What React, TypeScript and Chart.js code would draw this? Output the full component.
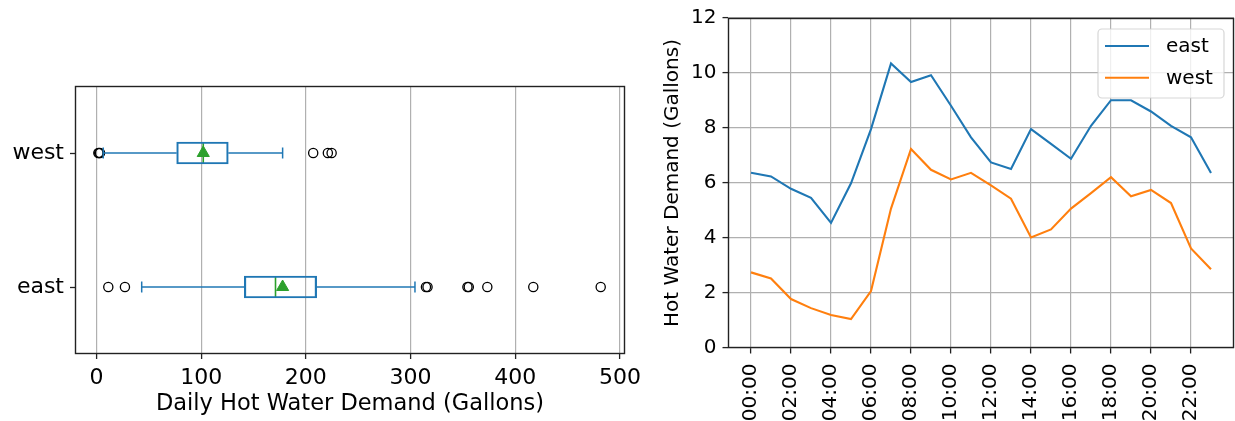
import React, { useEffect, useRef } from 'react';
import { Chart, registerables } from 'chart.js';

Chart.register(...registerables);

const FONT = "'DejaVu Sans', 'Liberation Sans', sans-serif";
const BLUE = '#1f77b4';
const ORANGE = '#ff7f0e';
const GREEN = '#2ca02c';
const GRID = '#b0b0b0';
const INK = '#000000';

// ---- Left panel: daily demand box plot (values in gallons) ----
const boxCategories = ['east', 'west'];
const boxQ1 = [141.2, 76.6];
const boxMedian = [171.0, 102.0];
const boxQ3 = [210.3, 125.9];
const whiskerLow = [43.2, 6.5];
const whiskerHigh = [304.2, 177.8];
const boxMean = [177.8, 102.0];
const eastOutliers = [11.3, 27.2, 314.7, 316.2, 354.3, 355.6, 373.3, 417.2, 481.6];
const westOutliers = [1.8, 2.6, 3.4, 207.0, 221.0, 224.6];
const dailyTicks = [0, 100, 200, 300, 400, 500];
const dailyRange = [-20.5, 504.8];

// ---- Right panel: mean hourly demand ----
const hours = [0, 1, 2, 3, 4, 5, 6, 7, 8, 9, 10, 11, 12, 13, 14, 15, 16, 17, 18, 19, 20, 21, 22, 23];
const eastHourly = [6.37, 6.24, 5.79, 5.46, 4.55, 5.99, 7.96, 10.35, 9.67, 9.92, 8.81, 7.66, 6.75, 6.51, 7.96, 7.42, 6.88, 8.08, 9.01, 9.01, 8.6, 8.08, 7.66, 6.36];
const westHourly = [2.75, 2.53, 1.78, 1.45, 1.2, 1.05, 2.07, 5.07, 7.24, 6.48, 6.13, 6.37, 5.91, 5.43, 4.02, 4.31, 5.07, 5.63, 6.21, 5.52, 5.75, 5.27, 3.62, 2.86];
const hourTicks = [0, 2, 4, 6, 8, 10, 12, 14, 16, 18, 20, 22];
const hourTickLabels = ['00:00', '02:00', '04:00', '06:00', '08:00', '10:00', '12:00', '14:00', '16:00', '18:00', '20:00', '22:00'];
const hourRange = [-1.15, 24.15];
const demandTicks = [0, 2, 4, 6, 8, 10, 12];
const demandRange = [0, 12];

const framePlugin = {
  id: 'frame',
  afterDraw(chart: any) {
    const { ctx, chartArea: a } = chart;
    ctx.save();
    ctx.strokeStyle = '#222222';
    ctx.lineWidth = 1.4;
    const l = Math.round(a.left) + 0.5;
    const t = Math.round(a.top) + 0.5;
    const r = Math.round(a.right) - 0.5;
    const b = Math.round(a.bottom) - 0.5;
    ctx.strokeRect(l, t, r - l, b - t);
    ctx.restore();
  },
};

const boxLegendPlugin = {
  id: 'boxLegend',
  afterDatasetsDraw(chart: any) {
    const { ctx, chartArea: a } = chart;
    const w = 126;
    const h = 69;
    const left = a.right - 10 - w;
    const top = a.top + 11;
    const rad = 4;
    ctx.save();
    ctx.beginPath();
    ctx.moveTo(left + rad, top);
    ctx.lineTo(left + w - rad, top);
    ctx.arcTo(left + w, top, left + w, top + rad, rad);
    ctx.lineTo(left + w, top + h - rad);
    ctx.arcTo(left + w, top + h, left + w - rad, top + h, rad);
    ctx.lineTo(left + rad, top + h);
    ctx.arcTo(left, top + h, left, top + h - rad, rad);
    ctx.lineTo(left, top + rad);
    ctx.arcTo(left, top, left + rad, top, rad);
    ctx.closePath();
    ctx.fillStyle = 'rgba(255,255,255,0.8)';
    ctx.fill();
    ctx.strokeStyle = 'rgba(204,204,204,0.8)';
    ctx.lineWidth = 1.2;
    ctx.stroke();
    chart.data.datasets.forEach((ds: any, i: number) => {
      const cy = top + 17 + i * 31.7;
      ctx.beginPath();
      ctx.strokeStyle = ds.borderColor;
      ctx.lineWidth = ds.borderWidth;
      ctx.moveTo(left + 7, cy);
      ctx.lineTo(left + 51, cy);
      ctx.stroke();
      ctx.fillStyle = INK;
      ctx.font = `20px ${FONT}`;
      ctx.textBaseline = 'middle';
      ctx.textAlign = 'left';
      ctx.fillText(ds.label, left + 68, cy + 0.8);
    });
    ctx.restore();
  },
};

function makeBoxChart(canvas: HTMLCanvasElement) {
  const whiskers = boxCategories.flatMap((c, i) => [
    {
      type: 'line',
      label: `${c} low whisker`,
      data: [{ x: whiskerLow[i], y: c }, { x: boxQ1[i], y: c }],
      borderColor: BLUE,
      borderWidth: 1.5,
      pointRadius: 0,
    },
    {
      type: 'line',
      label: `${c} high whisker`,
      data: [{ x: boxQ3[i], y: c }, { x: whiskerHigh[i], y: c }],
      borderColor: BLUE,
      borderWidth: 1.5,
      pointRadius: 0,
    },
  ]);
  const caps = {
    type: 'line',
    label: 'caps',
    showLine: false,
    data: boxCategories.flatMap((c, i) => [
      { x: whiskerLow[i], y: c },
      { x: whiskerHigh[i], y: c },
    ]),
    pointStyle: 'line',
    pointRotation: 90,
    pointRadius: 5.5,
    pointBorderColor: BLUE,
    pointBorderWidth: 1.5,
  };
  const medians = {
    type: 'line',
    label: 'median',
    showLine: false,
    data: boxCategories.map((c, i) => ({ x: boxMedian[i], y: c })),
    pointStyle: 'line',
    pointRotation: 90,
    pointRadius: 10.5,
    pointBorderColor: GREEN,
    pointBorderWidth: 1.6,
  };
  const means = {
    type: 'line',
    label: 'mean',
    showLine: false,
    data: boxCategories.map((c, i) => ({ x: boxMean[i], y: c })),
    pointStyle: 'triangle',
    pointRadius: 7,
    pointBackgroundColor: GREEN,
    pointBorderColor: GREEN,
    pointBorderWidth: 1,
  };
  const outliers = {
    type: 'line',
    label: 'outliers',
    showLine: false,
    data: [
      ...eastOutliers.map((v) => ({ x: v, y: 'east' })),
      ...westOutliers.map((v) => ({ x: v, y: 'west' })),
    ],
    pointStyle: 'circle',
    pointRadius: 4.6,
    pointBackgroundColor: 'rgba(0,0,0,0)',
    pointBorderColor: '#000000',
    pointBorderWidth: 1.3,
  };
  return new Chart(canvas, {
    type: 'bar',
    data: {
      labels: boxCategories,
      datasets: [
        {
          type: 'bar',
          label: 'box',
          data: boxCategories.map((_, i) => [boxQ1[i], boxQ3[i]]),
          backgroundColor: 'rgba(0,0,0,0)',
          borderColor: BLUE,
          borderWidth: 1.5,
          borderSkipped: false,
          barThickness: 22,
        },
        ...whiskers,
        caps,
        medians,
        means,
        outliers,
      ] as any,
    },
    options: {
      indexAxis: 'y',
      responsive: false,
      animation: false,
      events: [],
      layout: { padding: { top: 86, right: 23, left: 0, bottom: 0 } },
      plugins: { legend: { display: false }, tooltip: { enabled: false } },
      scales: {
        x: {
          type: 'linear',
          min: dailyRange[0],
          max: dailyRange[1],
          afterBuildTicks: (s: any) => {
            s.ticks = dailyTicks.map((v) => ({ value: v }));
          },
          afterFit: (s: any) => {
            s.height = 67;
          },
          grid: { color: GRID, lineWidth: 1.2, tickLength: 5, tickColor: '#222222', tickWidth: 1.3 },
          border: { display: false },
          ticks: { font: { family: FONT, size: 22 }, color: INK, padding: 6, maxRotation: 0, autoSkip: false },
          title: {
            display: true,
            text: 'Daily Hot Water Demand (Gallons)',
            font: { family: FONT, size: 22.5 },
            color: INK,
            padding: { top: 0, bottom: 3 },
          },
        },
        y: {
          type: 'category',
          reverse: true,
          offset: true,
          afterFit: (s: any) => {
            s.width = 75;
          },
          grid: { offset: false, drawOnChartArea: false, tickLength: 5, tickColor: '#222222', tickWidth: 1.3 },
          border: { display: false },
          ticks: { font: { family: FONT, size: 22 }, color: INK, padding: 6 },
        },
      },
    } as any,
    plugins: [framePlugin],
  });
}

function makeLineChart(canvas: HTMLCanvasElement) {
  return new Chart(canvas, {
    type: 'line',
    data: {
      datasets: [
        {
          label: 'east',
          data: hours.map((h, i) => ({ x: h, y: eastHourly[i] })),
          borderColor: BLUE,
          backgroundColor: BLUE,
          borderWidth: 2.1,
          pointRadius: 0,
          tension: 0,
        },
        {
          label: 'west',
          data: hours.map((h, i) => ({ x: h, y: westHourly[i] })),
          borderColor: ORANGE,
          backgroundColor: ORANGE,
          borderWidth: 2.1,
          pointRadius: 0,
          tension: 0,
        },
      ],
    },
    options: {
      responsive: false,
      animation: false,
      events: [],
      layout: { padding: { top: 17, right: 1, left: 0, bottom: 0 } },
      plugins: { legend: { display: false }, tooltip: { enabled: false } },
      scales: {
        x: {
          type: 'linear',
          min: hourRange[0],
          max: hourRange[1],
          afterBuildTicks: (s: any) => {
            s.ticks = hourTicks.map((v) => ({ value: v }));
          },
          afterFit: (s: any) => {
            s.height = 73;
          },
          grid: { color: GRID, lineWidth: 1.2, tickLength: 5.5, tickColor: '#222222', tickWidth: 1.3 },
          border: { display: false },
          ticks: {
            font: { family: FONT, size: 20 },
            color: INK,
            padding: 10,
            minRotation: 90,
            maxRotation: 90,
            autoSkip: false,
            callback: (value: any) => hourTickLabels[hourTicks.indexOf(Number(value))],
          },
        },
        y: {
          type: 'linear',
          min: demandRange[0],
          max: demandRange[1],
          afterBuildTicks: (s: any) => {
            s.ticks = demandTicks.map((v) => ({ value: v }));
          },
          afterFit: (s: any) => {
            s.width = 88;
          },
          grid: { color: GRID, lineWidth: 1.2, tickLength: 5.5, tickColor: '#222222', tickWidth: 1.3 },
          border: { display: false },
          ticks: { font: { family: FONT, size: 20 }, color: INK, padding: 6 },
          title: {
            display: true,
            text: 'Hot Water Demand (Gallons)',
            font: { family: FONT, size: 20 },
            color: INK,
            padding: { top: 21, bottom: 0 },
          },
        },
      },
    } as any,
    plugins: [framePlugin, boxLegendPlugin],
  });
}

export default function App() {
  const leftRef = useRef<HTMLCanvasElement | null>(null);
  const rightRef = useRef<HTMLCanvasElement | null>(null);

  useEffect(() => {
    const left = leftRef.current ? makeBoxChart(leftRef.current) : null;
    const right = rightRef.current ? makeLineChart(rightRef.current) : null;
    return () => {
      if (left) left.destroy();
      if (right) right.destroy();
    };
  }, []);

  return (
    <div style={{ position: 'absolute', left: 0, top: 0, width: 1235, height: 421, background: '#ffffff', overflow: 'hidden' }}>
      <canvas ref={leftRef} width={648} height={421} style={{ position: 'absolute', left: 0, top: 0, width: 648, height: 421 }} />
      <canvas ref={rightRef} width={595} height={421} style={{ position: 'absolute', left: 640, top: 0, width: 595, height: 421 }} />
    </div>
  );
}
